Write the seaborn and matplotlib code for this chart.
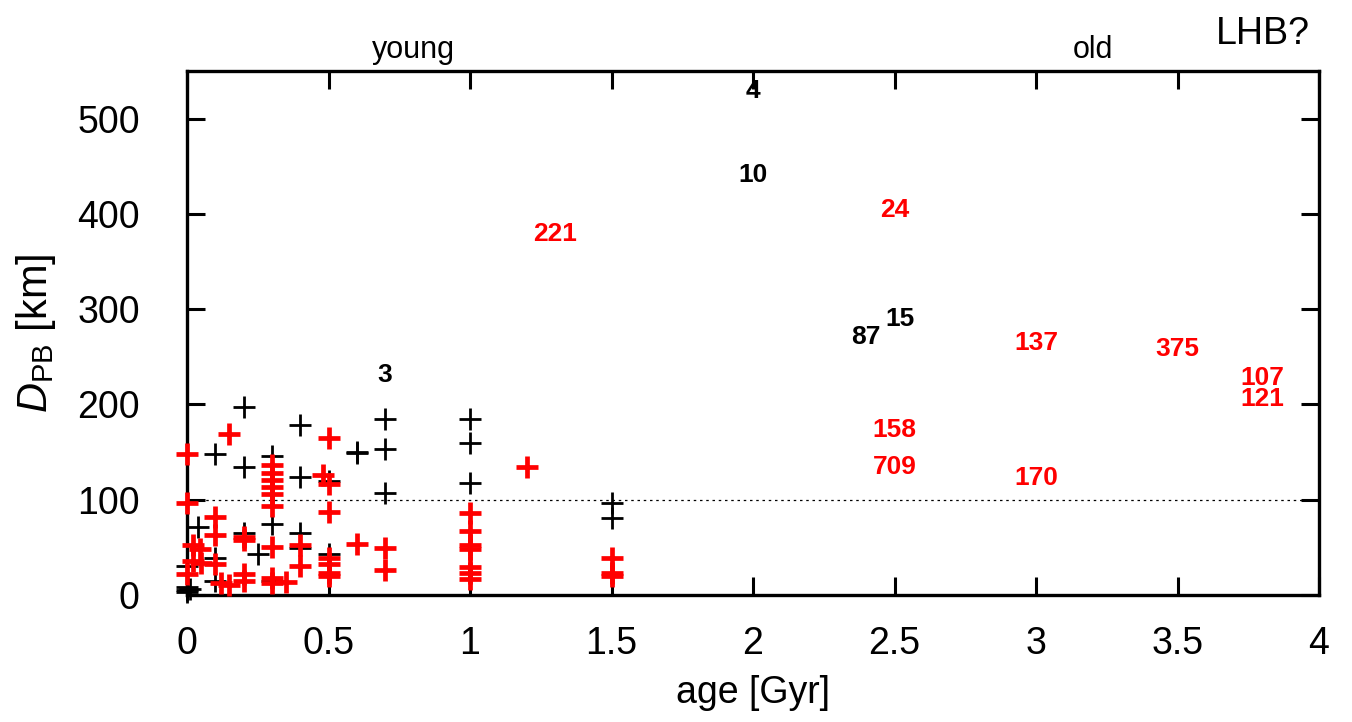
import matplotlib
matplotlib.use("Agg")
import matplotlib.pyplot as plt
import seaborn as sns
import pandas as pd

# ---- data ----
black_age = [0.2, 0.4, 0.1, 0.2, 0.3, 0.4, 0.5, 0.6, 0.04, 0.3, 0.4, 0.2, 0.25, 0.1, 0.5,
             0.1, 0.0, 0.4, 0.3, 0.0, 0.0, 0.0, 0.01,
             0.7, 1.0, 0.6, 0.7, 1.0, 0.7, 1.0, 1.5, 1.5]
black_d = [197, 178, 148, 134, 146, 124, 120, 150, 71, 74, 65, 65, 43, 39, 43,
           15, 30, 49, 15, 5, 8, 3, 6,
           185, 185, 149, 153, 160, 107, 118, 97, 81]

red_age = [0.15, 0.0, 0.5, 0.3, 0.3, 0.3, 0.3, 0.3, 0.3, 0.48, 0.5, 0.0, 0.1, 0.5,
           0.1, 0.2, 0.2, 0.3, 0.4, 0.4, 0.6, 0.02, 0.045, 0.02, 0.05, 0.1, 0.0,
           0.12, 0.15, 0.2, 0.2, 0.3, 0.3, 0.35, 0.5, 0.5, 0.5, 0.5,
           0.7, 0.7, 1.0, 1.0, 1.0, 1.0, 1.0, 1.0, 1.0, 1.2, 1.5, 1.5, 1.5]
red_d = [169, 148, 165, 136, 128, 121, 113, 106, 93, 126, 116, 97, 82, 87,
         63, 61, 58, 50, 53, 30, 54, 53, 48, 36, 34, 33, 22,
         13, 11, 22, 15, 18, 13, 14, 39, 33, 23, 20,
         49, 26, 86, 67, 53, 48, 29, 23, 17, 134, 39, 23, 20]

black_lbl = ["4", "10", "3", "87", "15"]
black_lbl_age = [2.0, 2.0, 0.7, 2.4, 2.52]
black_lbl_d = [529, 441, 231, 271, 290]

red_lbl = ["221", "24", "137", "375", "107", "121", "158", "709", "170"]
red_lbl_age = [1.3, 2.5, 3.0, 3.5, 3.8, 3.8, 2.5, 2.5, 3.0]
red_lbl_d = [379, 404, 265, 258, 228, 206, 173, 134, 123]

xticks = [0, 0.5, 1, 1.5, 2, 2.5, 3, 3.5, 4]
xticklabels = ["0", "0.5", "1", "1.5", "2", "2.5", "3", "3.5", "4"]
yticks = [0, 100, 200, 300, 400, 500]

# ---- plot ----
sns.set_theme(style="white", rc={"text.color": "black", "axes.labelcolor": "black",
                                 "xtick.color": "black", "ytick.color": "black",
                                 "xtick.bottom": True, "ytick.left": True})
plt.rcParams["font.family"] = ["Liberation Sans", "DejaVu Sans"]
plt.rcParams["mathtext.fontset"] = "custom"
plt.rcParams["mathtext.rm"] = "Liberation Sans"
plt.rcParams["mathtext.it"] = "Liberation Sans:italic"

fig = plt.figure(figsize=(13.52, 7.22), dpi=100)
ax = fig.add_axes([187/1352, 1-595/722, (1319-187)/1352, (595-71)/722])

df_b = pd.DataFrame({"age": black_age, "D": black_d})
df_r = pd.DataFrame({"age": red_age, "D": red_d})

ax.axhline(100, color="black", linestyle=(0, (2, 3)), linewidth=0.9, zorder=1)

sns.scatterplot(data=df_b, x="age", y="D", ax=ax, marker="+", s=260,
                color="black", linewidth=2.0, clip_on=False, zorder=3)
sns.scatterplot(data=df_r, x="age", y="D", ax=ax, marker="+", s=260,
                color="#ff0000", linewidth=3.4, clip_on=False, zorder=4)

for t, xa, yd in zip(black_lbl, black_lbl_age, black_lbl_d):
    ax.text(xa, yd, t, color="black", fontsize=19, fontweight="bold",
            ha="center", va="center", zorder=5)
for t, xa, yd in zip(red_lbl, red_lbl_age, red_lbl_d):
    ax.text(xa, yd, t, color="#ff0000", fontsize=19, fontweight="bold",
            ha="center", va="center", zorder=5)

ax.set_xlim(0, 4)
ax.set_ylim(0, 550)
ax.set_xticks(xticks)
ax.set_xticklabels(xticklabels)
ax.set_yticks(yticks)
ax.tick_params(axis="both", direction="in", length=13, width=2.2, labelsize=27,
               top=True, right=True, bottom=True, left=True, colors="black")
ax.tick_params(axis="y", pad=34)
ax.tick_params(axis="x", pad=22)
for sp in ax.spines.values():
    sp.set_linewidth(2.4)
    sp.set_color("black")

ax.set_xlabel("age [Gyr]", fontsize=27, labelpad=10)
ax.set_ylabel(r"$D_{\mathrm{PB}}$ [km]", fontsize=30, labelpad=14)

ax.text(0.8, 1.012, "young", transform=ax.get_xaxis_transform(), ha="center",
        va="bottom", fontsize=22)
ax.text(3.2, 1.012, "old", transform=ax.get_xaxis_transform(), ha="center",
        va="bottom", fontsize=22)
fig.text(1310/1352, 1-34/722, "LHB?", ha="right", va="center", fontsize=27)

fig.savefig("out.png", dpi=100, facecolor="white")
